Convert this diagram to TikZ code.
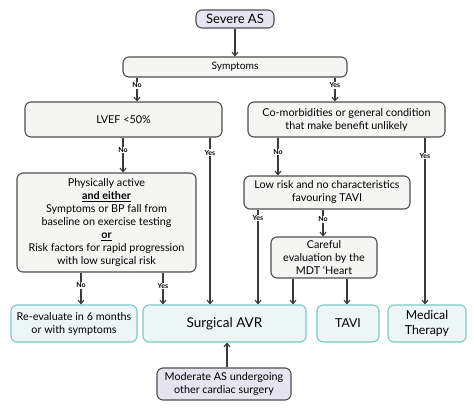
\documentclass[tikz,border=0pt]{standalone}
\usepackage{fontspec}
\setmainfont{Lato}
\usetikzlibrary{arrows.meta}
\definecolor{edge}{HTML}{3A3A3A}
\definecolor{grayfill}{HTML}{F5F5F4}
\definecolor{purplefill}{HTML}{E6E4F0}
\definecolor{tealfill}{HTML}{ECF6F6}
\definecolor{tealedge}{HTML}{7CC8C4}
\tikzset{
  base/.style={rectangle, rounded corners=6pt, line width=1.1pt, align=center, inner sep=1pt, font=\fontsize{10.8}{13}\selectfont},
  graybox/.style={base, draw=edge!90, fill=grayfill},
  purplebox/.style={base, draw=edge!90, fill=purplefill},
  tealbox/.style={base, draw=tealedge, fill=tealfill},
  conn/.style={line width=1.1pt, draw=edge, -{Straight Barb[length=3.5pt,width=6pt]}},
  lab/.style={fill=white, inner sep=0.8pt, font=\fontsize{7}{8}\selectfont\bfseries, text=black}
}
\begin{document}
\begin{tikzpicture}[x=1pt,y=-1pt]
\useasboundingbox (0,0) rectangle (474,415);
\fill[white] (0,0) rectangle (474,415);

\node[purplebox, minimum width=78pt, minimum height=18pt, font=\fontsize{13}{15}\selectfont] (severe) at (235,19) {Severe AS};
\node[graybox, minimum width=224pt, minimum height=20pt, font=\fontsize{10.2}{13}\selectfont] (sym) at (235,67) {Symptoms};
\node[graybox, minimum width=197pt, minimum height=35pt] (lvef) at (123.5,119.5) {LVEF <50\%};
\node[graybox, minimum width=197pt, minimum height=35pt] (comorb) at (346.5,119.5) {Co-morbidities or general condition\\that make benefit unlikely};
\node[graybox, minimum width=179pt, minimum height=99pt] (phys) at (106.5,222.5) {Physically active\\\underline{\textbf{and either}}\\Symptoms or BP fall from\\baseline on exercise testing\\\underline{\textbf{or}}\\Risk factors for rapid progression\\with low surgical risk};
\node[graybox, minimum width=166pt, minimum height=33pt] (low) at (327,192.5) {Low risk and no characteristics\\favouring TAVI};
\node[graybox, minimum width=106pt, minimum height=41pt] (careful) at (324,257.5) {Careful\\evaluation by the\\MDT ‘Heart};
\node[tealbox, minimum width=126pt, minimum height=37pt] (reeval) at (74,323.5) {Re-evaluate in 6 months\\or with symptoms};
\node[tealbox, minimum width=163pt, minimum height=37pt, font=\fontsize{13.5}{15}\selectfont] (savr) at (224.5,323.5) {Surgical AVR};
\node[tealbox, minimum width=62pt, minimum height=37pt, font=\fontsize{12.3}{14.5}\selectfont] (tavi) at (348,323.5) {TAVI};
\node[tealbox, minimum width=78pt, minimum height=37pt, font=\fontsize{12.3}{14.5}\selectfont] (med) at (427,323.5) {Medical\\Therapy};
\node[purplebox, minimum width=134pt, minimum height=32pt] (mod) at (224,384) {Moderate AS undergoing\\other cardiac surgery};

\draw[conn] (severe) -- (sym);
\draw[conn] (sym.south -| 137,0) -- node[lab, pos=0.32] {No} (lvef.north -| 137,0);
\draw[conn] (sym.south -| 335,0) -- node[lab, pos=0.32] {Yes} (comorb.north -| 335,0);
\draw[conn] (lvef.south -| 123,0) -- node[lab, pos=0.36] {No} (phys.north -| 123,0);
\draw[conn] (lvef.south -| 210,0) -- node[lab, pos=0.09] {Yes} (savr.north -| 210,0);
\draw[conn] (comorb.south -| 278,0) -- node[lab, pos=0.38] {No} (low.north -| 278,0);
\draw[conn] (comorb.south -| 425,0) -- node[lab, pos=0.11] {Yes} (med.north -| 425,0);
\draw[conn] (low.south -| 258,0) -- node[lab, pos=0.09] {Yes} (savr.north -| 258,0);
\draw[conn] (low.south -| 323,0) -- node[lab, pos=0.36] {No} (careful.north -| 323,0);
\draw[conn] (careful.south -| 293,0) -- (savr.north -| 293,0);
\draw[conn] (careful.south -| 347,0) -- (tavi.north -| 347,0);
\draw[conn] (phys.south -| 81,0) -- node[lab, pos=0.4] {No} (reeval.north -| 81,0);
\draw[conn] (phys.south -| 163,0) -- node[lab, pos=0.42] {Yes} (savr.north -| 163,0);
\draw[conn] (mod.north -| 227,0) -- (savr.south -| 227,0);
\end{tikzpicture}
\end{document}
